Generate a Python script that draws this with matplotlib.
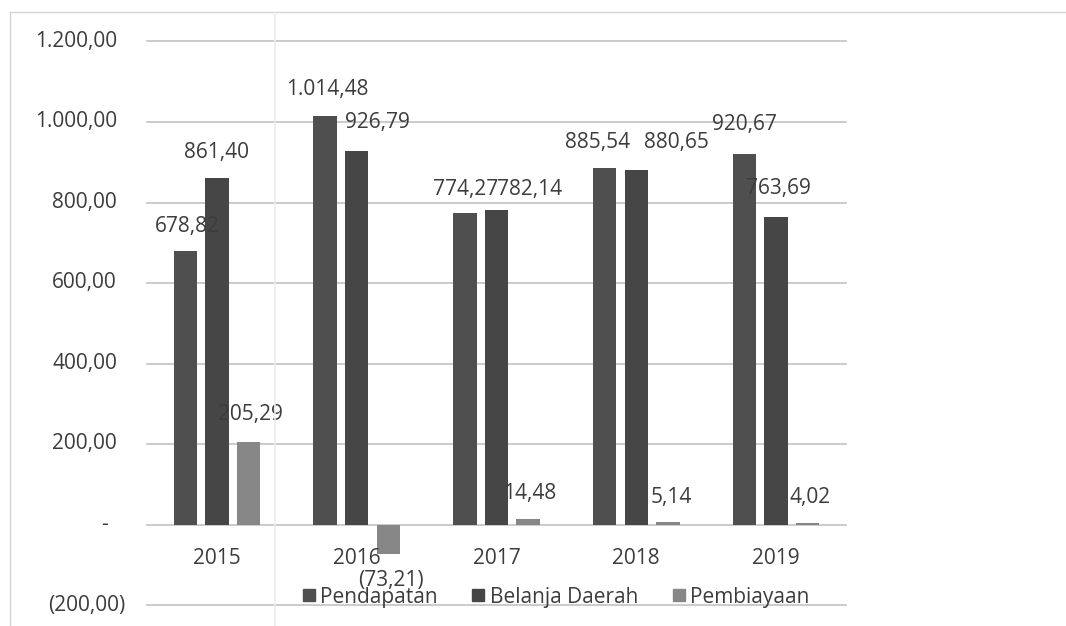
import matplotlib.pyplot as plt
from matplotlib.lines import Line2D
from matplotlib.transforms import blended_transform_factory
import numpy as np

# APBD realisation per year (Rp miliar)
years = ["2015", "2016", "2017", "2018", "2019"]
pendapatan = [678.82, 1014.48, 774.27, 885.54, 920.67]
belanja = [861.40, 926.79, 782.14, 880.65, 763.69]
pembiayaan = [205.29, -73.21, 14.48, 5.14, 4.02]
series_names = ["Pendapatan", "Belanja Daerah", "Pembiayaan"]
y_ticks = [-200, 0, 200, 400, 600, 800, 1000, 1200]

colors = ["#4f4f4f", "#464646", "#878787"]
text_col = "#3c3c3c"

# label nudges in pixels (dx, dy from the bar end), labels were dragged by hand
label_shift = [
    [(2, 25), (2, 27), (1, 23), (-7, 26), (0, 29)],
    [(0, 25), (21, 29), (33, 20), (40, 28), (2, 29)],
    [(2, 27), (3, -27), (2, 25), (3, 25), (2, 25)],
]

plt.rcParams['font.family'] = ['Open Sans', 'DejaVu Sans']
FS = 15


def fmt_id(v):
    s = f"{abs(v):,.2f}".replace(",", "#").replace(".", ",").replace("#", ".")
    return f"({s})" if v < 0 else s


fig = plt.figure(figsize=(10.66, 6.26), dpi=100)
W, H = 1066, 626
ax = fig.add_axes([147 / W, 1 - 605 / H, (846 - 147) / W, (605 - 41.5) / H])

x = np.arange(len(years))
width = 0.168
step = 0.226
all_series = [pendapatan, belanja, pembiayaan]
for k, vals in enumerate(all_series):
    bars = ax.bar(x + (k - 1) * step, vals, width, color=colors[k],
                  label=series_names[k], zorder=3)
    for i, b in enumerate(bars):
        v = vals[i]
        dx, dy = label_shift[k][i]
        ax.annotate(fmt_id(v), (b.get_x() + b.get_width() / 2, v),
                    xytext=(dx, dy), textcoords="offset pixels",
                    ha="center", va="center", fontsize=FS, color=text_col,
                    zorder=4)

ax.set_xlim(-0.5, len(years) - 0.5)
ax.set_ylim(-200, 1200)
ax.set_yticks(y_ticks)
ax.yaxis.grid(True, color="#bdbdbd", linewidth=1.1, zorder=0)
for gl in ax.get_ygridlines():
    gl.set_clip_on(False)
ax.tick_params(left=False, bottom=False, labelleft=False, labelbottom=False)
for sp in ax.spines.values():
    sp.set_visible(False)

# y labels in accounting style
ytr = blended_transform_factory(ax.transAxes, ax.transData)
for t in y_ticks:
    if t == 0:
        ax.annotate("-", (0, t), xycoords=ytr, xytext=(-42, 0),
                    textcoords="offset pixels", ha="center", va="center",
                    fontsize=FS, color=text_col)
    else:
        off = -22 if t < 0 else -30
        ax.annotate(fmt_id(t), (0, t), xycoords=ytr, xytext=(off, 0),
                    textcoords="offset pixels", ha="right", va="center",
                    fontsize=FS, color=text_col)

# category labels sit just under the zero line
for i, yr in enumerate(years):
    ax.annotate(yr, (x[i], 0), xytext=(0, -34), textcoords="offset pixels",
                ha="center", va="center", fontsize=FS, color=text_col)

handles = [Line2D([], [], marker="s", linestyle="none", markersize=8.5,
                  color=c) for c in colors]
fig.legend(handles, series_names, loc="center",
           bbox_to_anchor=(556 / W, 1 - 597 / H), ncol=3, frameon=False,
           fontsize=FS, labelcolor=text_col, handlelength=0.6,
           handletextpad=0.25, columnspacing=1.65)

# page frame lines from the scanned report
fig.add_artist(Line2D([10 / W, 1], [1 - 12 / H, 1 - 12 / H],
                      color="#d4d4d4", linewidth=1))
fig.add_artist(Line2D([10 / W, 10 / W], [0, 1 - 12 / H],
                      color="#d4d4d4", linewidth=1))
fig.add_artist(Line2D([275 / W, 275 / W], [0, 1 - 12 / H],
                      color="#ececec", linewidth=1.2))

fig.savefig("out.png", dpi=100)
